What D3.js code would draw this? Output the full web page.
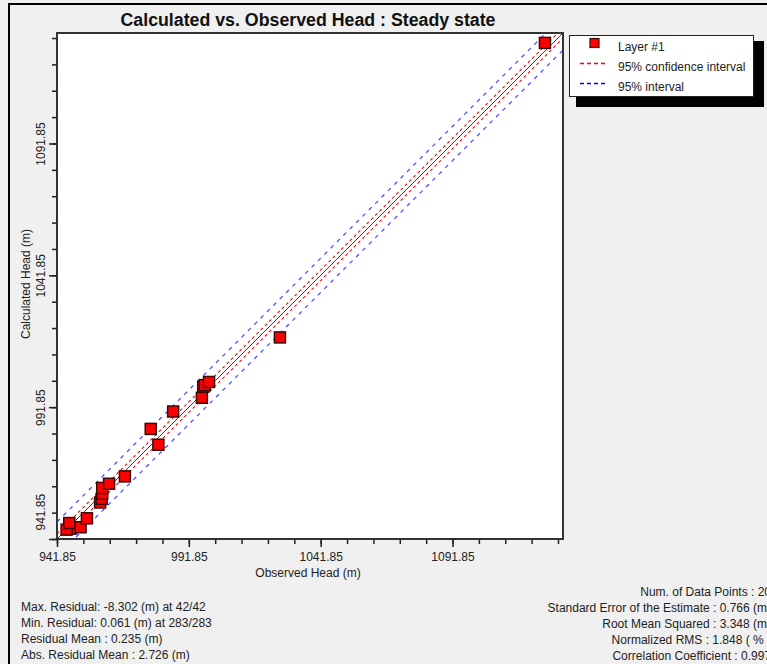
<!DOCTYPE html>
<html>
<head>
<meta charset="utf-8">
<script src="https://cdn.jsdelivr.net/npm/d3@7"></script>
<style>
    body { margin: 0; background: #f0f0f0; }
    svg { display: block; font-family: "Liberation Sans", Arial, sans-serif; }
</style>
</head>
<body>
<div id="chart"></div>
<script>
// observed vs calculated heads (m)
const observed   = [1126.9, 1026.4, 999.5, 997.9, 997.3, 996.8, 985.9, 977.4, 980.3, 967.6,
                    961.6, 959.0, 959.0, 958.8, 958.2, 953.2, 950.8, 946.5, 945.5, 947.2];
const calculated = [1130.0, 1018.3, 1001.4, 1000.2, 999.6, 995.4, 990.2, 983.6, 977.6, 965.6,
                    962.8, 961.2, 959.0, 957.1, 955.7, 949.7, 946.3, 947.9, 945.4, 945.8];

const majorTicks = [941.85, 991.85, 1041.85, 1091.85];
const tickLabels = ["941.85", "991.85", "1041.85", "1091.85"];
const minorTicks = [941.85, 951.85, 961.85, 971.85, 981.85, 991.85, 1001.85, 1011.85, 1021.85, 1031.85,
                    1041.85, 1051.85, 1061.85, 1071.85, 1081.85, 1091.85, 1101.85, 1111.85, 1121.85, 1131.85];
const domain = [941.85, 1133.75];

const confOffset = 2.0;   // 95% confidence interval
const predOffset = 6.5;   // 95% interval

const legendItems = ["Layer #1", "95% confidence interval", "95% interval"];
const leftStats = [
    "Max. Residual: -8.302 (m) at 42/42",
    "Min. Residual: 0.061 (m) at 283/283",
    "Residual Mean : 0.235 (m)",
    "Abs. Residual Mean : 2.726 (m)"
];
const rightStats = [
    "Num. of Data Points : 20",
    "Standard Error of the Estimate : 0.766 (m)",
    "Root Mean Squared : 3.348 (m)",
    "Normalized RMS : 1.848 ( % )",
    "Correlation Coefficient : 0.997"
];

const width = 767, height = 664;
const plotL = 57, plotR = 563, plotT = 33, plotB = 539;

const svg = d3.select("#chart").append("svg")
    .attr("width", width)
    .attr("height", height);

svg.append("rect").attr("width", width).attr("height", height).attr("fill", "#f0f0f0");

// outer frame
svg.append("path")
    .attr("d", `M9,${height} V4 H${width}`)
    .attr("fill", "none")
    .attr("stroke", "#000")
    .attr("stroke-width", 2);

svg.append("text")
    .attr("x", 308)
    .attr("y", 26)
    .attr("text-anchor", "middle")
    .attr("textLength", 375)
    .attr("lengthAdjust", "spacingAndGlyphs")
    .style("font-family", "'Liberation Sans Narrow', 'Liberation Sans', Arial, sans-serif")
    .style("font-size", "18px")
    .style("font-weight", "bold")
    .attr("fill", "#111")
    .text("Calculated vs. Observed Head : Steady state");

const x = d3.scaleLinear().domain(domain).range([plotL, plotR]);
const y = d3.scaleLinear().domain(domain).range([plotB, plotT]);

svg.append("defs").append("clipPath")
    .attr("id", "plotClip")
    .append("rect")
    .attr("x", plotL).attr("y", plotT)
    .attr("width", plotR - plotL).attr("height", plotB - plotT);

svg.append("rect")
    .attr("x", plotL).attr("y", plotT)
    .attr("width", plotR - plotL).attr("height", plotB - plotT)
    .attr("fill", "#fff");

// lines
const lineG = svg.append("g").attr("clip-path", "url(#plotClip)");
const fitLine = (off) => d3.line()([[x(domain[0]), y(domain[0] + off)], [x(domain[1]), y(domain[1] + off)]]);

[predOffset, -predOffset].forEach(off => {
    lineG.append("path")
        .attr("d", fitLine(off))
        .attr("stroke", "#4646ff")
        .attr("stroke-width", 1.2)
        .attr("stroke-dasharray", "4,5")
        .attr("fill", "none");
});
[confOffset, -confOffset].forEach(off => {
    lineG.append("path")
        .attr("d", fitLine(off))
        .attr("stroke", "#ff1a1a")
        .attr("stroke-width", 1.2)
        .attr("stroke-dasharray", "3,3")
        .attr("fill", "none");
});
lineG.append("path")
    .attr("d", fitLine(0))
    .attr("stroke", "#2020ff")
    .attr("stroke-width", 1)
    .attr("fill", "none");

// points
const sq = 11;
svg.append("g")
    .selectAll("rect")
    .data(d3.range(observed.length).reverse())
    .enter()
    .append("rect")
    .attr("x", i => x(observed[i]) - sq / 2)
    .attr("y", i => y(calculated[i]) - sq / 2)
    .attr("width", sq)
    .attr("height", sq)
    .attr("fill", "#ff0000")
    .attr("stroke", "#3a0a0a")
    .attr("stroke-width", 1.5);

// plot border
svg.append("rect")
    .attr("x", plotL).attr("y", plotT)
    .attr("width", plotR - plotL).attr("height", plotB - plotT)
    .attr("fill", "none")
    .attr("stroke", "#333")
    .attr("stroke-width", 2);

// axes
const xMinor = svg.append("g").attr("transform", `translate(0,${plotB})`)
    .call(d3.axisBottom(x).tickValues(minorTicks).tickSize(5).tickFormat(""));
const xMajor = svg.append("g").attr("transform", `translate(0,${plotB})`)
    .call(d3.axisBottom(x).tickValues(majorTicks).tickSize(8).tickPadding(5)
        .tickFormat((d, i) => tickLabels[i]));
const yMinor = svg.append("g").attr("transform", `translate(${plotL},0)`)
    .call(d3.axisLeft(y).tickValues(minorTicks).tickSize(5).tickFormat(""));
const yMajor = svg.append("g").attr("transform", `translate(${plotL},0)`)
    .call(d3.axisLeft(y).tickValues(majorTicks).tickSize(8).tickFormat((d, i) => tickLabels[i]));

[xMinor, xMajor, yMinor, yMajor].forEach(g => {
    g.select(".domain").remove();
    g.selectAll(".tick line").attr("stroke", "#222").attr("stroke-width", 1.5);
    g.selectAll("text").style("font-size", "12px").attr("fill", "#222")
        .style("font-family", "'Liberation Sans', Arial, sans-serif");
});

yMajor.selectAll(".tick text")
    .attr("dy", null)
    .attr("transform", "translate(-12,0) rotate(-90)")
    .attr("text-anchor", (d, i) => i === 0 ? "start" : "middle")
    .attr("y", 0)
    .attr("x", (d, i) => i === 0 ? 9 : 0);

svg.append("text")
    .attr("x", 308).attr("y", 577)
    .attr("text-anchor", "middle")
    .style("font-size", "12px").attr("fill", "#222")
    .text("Observed Head (m)");

svg.append("text")
    .attr("transform", "translate(30,284) rotate(-90)")
    .attr("text-anchor", "middle")
    .style("font-size", "12px").attr("fill", "#222")
    .text("Calculated Head (m)");

// legend
const legend = svg.append("g");
legend.append("rect").attr("x", 576).attr("y", 41).attr("width", 188).attr("height", 66).attr("fill", "#000");
legend.append("rect").attr("x", 569.5).attr("y", 35.5).attr("width", 184).attr("height", 61)
    .attr("fill", "#fff").attr("stroke", "#222").attr("stroke-width", 1);
legend.append("rect").attr("x", 590).attr("y", 38.5).attr("width", 9).attr("height", 9)
    .attr("fill", "#ff0000").attr("stroke", "#3a0a0a").attr("stroke-width", 1.2);
legend.append("line").attr("x1", 580).attr("x2", 606).attr("y1", 63.5).attr("y2", 63.5)
    .attr("stroke", "#ff0000").attr("stroke-width", 1.3).attr("stroke-dasharray", "4,3");
legend.append("line").attr("x1", 580).attr("x2", 606).attr("y1", 83.5).attr("y2", 83.5)
    .attr("stroke", "#0000ff").attr("stroke-width", 1.3).attr("stroke-dasharray", "4,3");
legend.selectAll("text.item")
    .data(legendItems)
    .enter()
    .append("text")
    .attr("class", "item")
    .attr("x", 618)
    .attr("y", (d, i) => 51 + i * 20)
    .style("font-size", "12px").attr("fill", "#222")
    .text(d => d);

// statistics
svg.append("g").selectAll("text")
    .data(leftStats)
    .enter()
    .append("text")
    .attr("x", 21)
    .attr("y", (d, i) => 610.5 + i * 16.3)
    .style("font-size", "12px").attr("fill", "#222")
    .text(d => d);

svg.append("g").selectAll("text")
    .data(rightStats)
    .enter()
    .append("text")
    .attr("x", 771)
    .attr("y", (d, i) => 595.5 + i * 16)
    .attr("text-anchor", "end")
    .style("font-size", "12px").attr("fill", "#222")
    .text(d => d);
</script>
</body>
</html>
